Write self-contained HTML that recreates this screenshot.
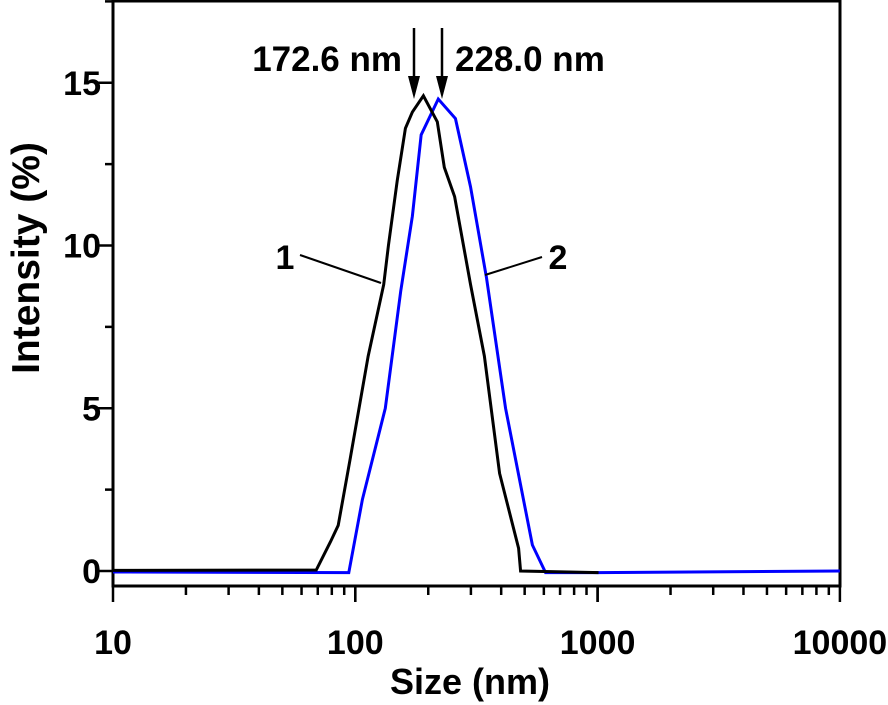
<!DOCTYPE html>
<html><head><meta charset="utf-8"><style>
body{margin:0;background:#fff}
svg{display:block;font-family:"Liberation Sans",Arial,sans-serif;font-weight:bold}
</style></head><body>
<svg id="chart" width="888" height="705" viewBox="0 0 888 705">
<g id="axes"></g><g id="series"></g>
<g>
<text x="402" y="71" font-size="35" text-anchor="end">172.6 nm</text>
<text x="455" y="71" font-size="35">228.0 nm</text>
<g><line x1="414" y1="28" x2="414" y2="80" stroke="#000" stroke-width="2.5"/><polygon points="408,76 420,76 414,99" fill="#000"/></g>
<g><line x1="442" y1="28" x2="442" y2="80" stroke="#000" stroke-width="2.5"/><polygon points="436,76 448,76 442,99" fill="#000"/></g>
<text x="285" y="269" font-size="34" text-anchor="middle">1</text>
<line x1="300" y1="255" x2="381" y2="283" stroke="#000" stroke-width="2"/>
<text x="558" y="269" font-size="34" text-anchor="middle">2</text>
<line x1="485" y1="275" x2="542" y2="257" stroke="#000" stroke-width="2"/>
<text x="470" y="694" font-size="36" text-anchor="middle">Size (nm)</text>
<text transform="translate(39,258) rotate(-90)" font-size="39" text-anchor="middle">Intensity (%)</text>
</g>
</svg>
<script>
const sizes1=[10,69,79,85,95,113,131,137,149,161,172,191,218,233,257,299,341,394,472,481,1009];
const vals1=[0.02,0.03,0.9,1.4,3.4,6.6,8.8,10,12,13.6,14.1,14.6,13.8,12.4,11.5,8.8,6.6,3.0,0.7,0,-0.05];
const sizes2=[10,94,107,133,154,172,187,220,259,299,348,417,538,610,1000,10000];
const vals2=[-0.03,-0.05,2.2,5,8.6,10.9,13.4,14.5,13.9,11.8,9,5,0.8,-0.05,-0.05,0];
const xTicks=[10,100,1000,10000];
const yTicks=[0,5,10,15];
const L=113,R=840,T=1,B=586;
function X(v){return L+(Math.log10(v)-1)*242.3;}
function Y(v){return 571-v*32.55;}
const NS='http://www.w3.org/2000/svg';
function mk(t,a,p){const e=document.createElementNS(NS,t);for(const k in a)e.setAttribute(k,a[k]);p.appendChild(e);return e;}
const ax=document.getElementById('axes');
const fr=mk('rect',{x:L,y:T,width:R-L,height:B-T,fill:'none',stroke:'#000','stroke-width':3},ax);


for(let d=1;d<4;d++){for(let m=1;m<=10;m++){const v=Math.pow(10,d)*m;const x=X(v);const big=m===1||m===10;
const t=mk('line',{x1:x,x2:x,y1:B,y2:B+(big?16:9),stroke:'#000','stroke-width':2.5},ax);

}}
xTicks.forEach(v=>{const t=mk('text',{x:X(v),y:654,'font-size':34,'text-anchor':'middle'},ax);t.textContent=v;

});
for(let v=0;v<=17.5;v+=2.5){const big=v%5===0;const y=Y(v);
const t=mk('line',{x1:L-(big?16:8),x2:L,y1:y,y2:y,stroke:'#000','stroke-width':2.5},ax);

}
yTicks.forEach(v=>{const t=mk('text',{x:L-12,y:Y(v)+12,'font-size':34,'text-anchor':'end'},ax);t.textContent=v;

});
const se=document.getElementById('series');
const p2=mk('polyline',{points:sizes2.map((s,i)=>X(s)+','+Y(vals2[i])).join(' '),fill:'none',stroke:'#0000ff','stroke-width':3},se);


const p1=mk('polyline',{points:sizes1.map((s,i)=>X(s)+','+Y(vals1[i])).join(' '),fill:'none',stroke:'#000','stroke-width':3},se);


</script>
</body></html>
